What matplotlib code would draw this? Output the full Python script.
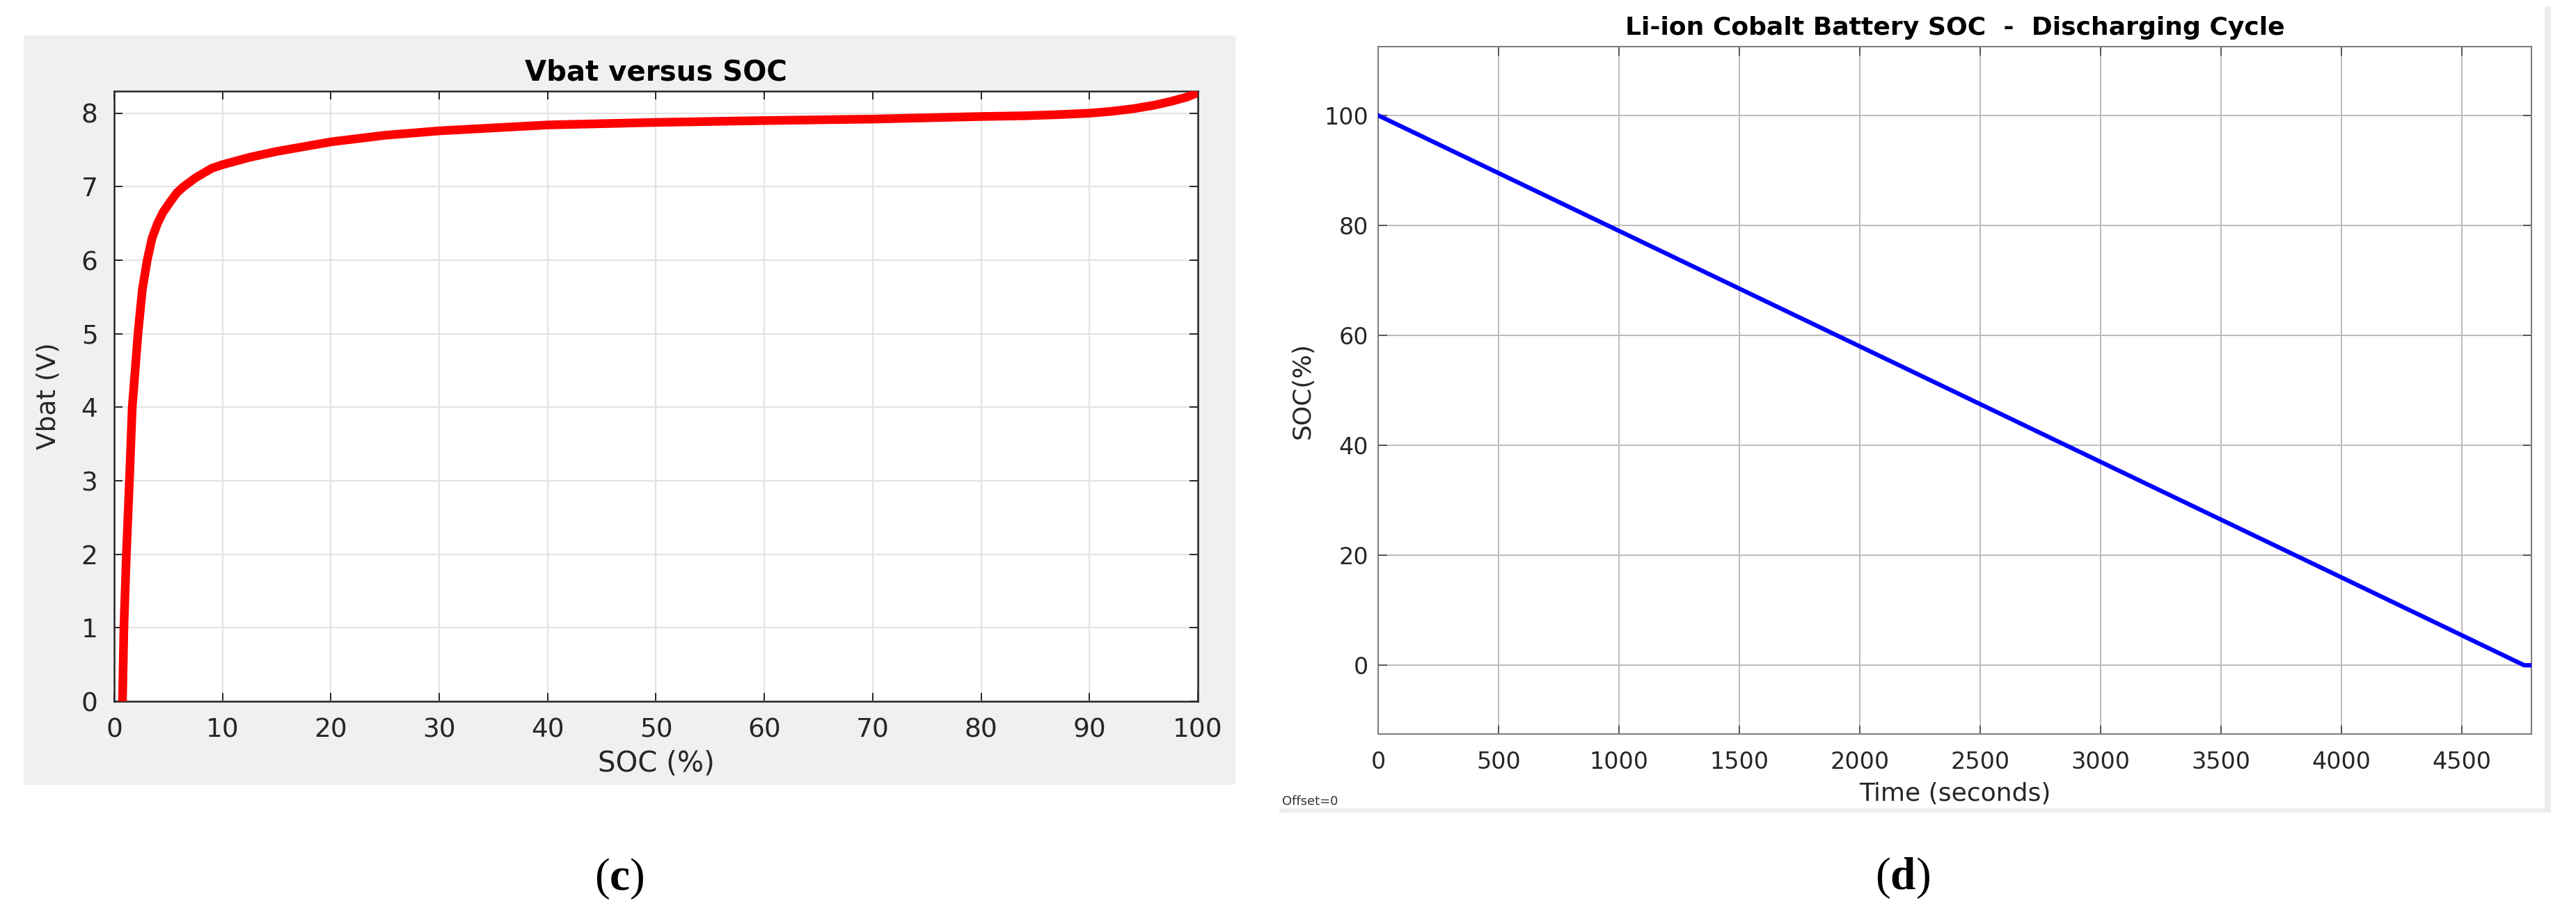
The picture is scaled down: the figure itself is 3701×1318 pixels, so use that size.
import matplotlib
matplotlib.use("Agg")
import matplotlib.pyplot as plt
from matplotlib.patches import Rectangle

# (c) battery voltage versus state of charge
soc_pct = [0.77, 0.9, 1.13, 1.41, 1.67, 2.2, 2.6, 3.05, 3.5, 4.0, 4.5, 5.2, 5.8,
           6.4, 7.5, 9.0, 10, 12.5, 15, 20, 25, 30, 40, 50, 60, 70, 80, 84, 87,
           90, 92, 94, 96, 97.5, 99, 100]
vbat = [0, 1, 2, 3, 4, 5, 5.6, 6.0, 6.3, 6.5, 6.65, 6.8, 6.92,
        7.0, 7.12, 7.25, 7.30, 7.40, 7.48, 7.61, 7.70, 7.76, 7.84, 7.875, 7.90, 7.92, 7.955, 7.965, 7.98,
        8.0, 8.025, 8.06, 8.11, 8.16, 8.22, 8.28]
soc_ticks = list(range(0, 101, 10))
vbat_ticks = list(range(0, 9))

# (d) SOC during the discharging cycle
time_s = [0, 1000, 2000, 3000, 4000, 4760, 4790]
soc_discharge = [100, 79, 58, 37, 16, 0, 0]
time_ticks = list(range(0, 4501, 500))
soc_axis_ticks = list(range(0, 101, 20))

plt.rcParams["font.family"] = ["DejaVu Sans"]
plt.rcParams["mathtext.fontset"] = "custom"
plt.rcParams["mathtext.bf"] = "Liberation Serif:bold"
plt.rcParams["mathtext.rm"] = "Liberation Serif"

fig = plt.figure(figsize=(37.01, 13.18), dpi=100)
fig.patch.set_facecolor("white")

# grey figure background of the left (MATLAB) panel
fig.add_artist(Rectangle((0.0092, 0.1442), 0.4704, 0.8171, transform=fig.transFigure,
                         facecolor="#f0f0f0", edgecolor="none", zorder=0))
# thin light frame of the right (scope) panel
fig.add_artist(Rectangle((0.9878, 0.1138), 0.0025, 0.879, transform=fig.transFigure,
                         facecolor="#ededed", edgecolor="none", zorder=0))
fig.add_artist(Rectangle((0.4966, 0.1138), 0.4937, 0.0046, transform=fig.transFigure,
                         facecolor="#ededed", edgecolor="none", zorder=0))

# ---- panel (c)
ax1 = fig.add_axes([0.04431, 0.23520, 0.42069, 0.66540])
ax1.set_facecolor("white")
ax1.plot(soc_pct, vbat, color="#ff0000", lw=9, solid_capstyle="butt",
         solid_joinstyle="round", zorder=3)
ax1.set_xlim(0, 100)
ax1.set_ylim(0, 8.3)
ax1.set_xticks(soc_ticks)
ax1.set_yticks(vbat_ticks)
ax1.grid(True, color="#e2e2e2", lw=1.5, zorder=0)
ax1.set_axisbelow(True)
for s in ax1.spines.values():
    s.set_color("#262626")
    s.set_linewidth(1.8)
ax1.tick_params(direction="in", length=8.5, width=1.4, color="#262626",
                top=True, right=True, labelsize=27, labelcolor="#262626")
ax1.tick_params(axis="x", pad=17)
ax1.tick_params(axis="y", pad=17)
ax1.set_xlabel("SOC (%)", fontsize=29, color="#262626", va="center")
ax1.xaxis.set_label_coords(0.5, -0.1026)
ax1.set_ylabel("Vbat (V)", fontsize=27, color="#262626", va="center")
ax1.yaxis.set_label_coords(-0.0604, 0.5)
ax1.text(0.5, 1.030, "Vbat versus SOC", transform=ax1.transAxes, ha="center",
         va="center", fontsize=29, fontweight="bold", color="black")

# ---- panel (d)
ax2 = fig.add_axes([0.53499, 0.19954, 0.44772, 0.74962])
ax2.set_facecolor("white")
ax2.plot(time_s, soc_discharge, color="#0000ff", lw=4.5, zorder=3)
ax2.set_xlim(0, 4790)
ax2.set_ylim(-12.5, 112.5)
ax2.set_xticks(time_ticks)
ax2.set_yticks(soc_axis_ticks)
ax2.grid(True, color="#bdbdbd", lw=1.5, zorder=0)
ax2.set_axisbelow(True)
for s in ax2.spines.values():
    s.set_color("#7f7f7f")
    s.set_linewidth(1.5)
ax2.tick_params(direction="in", length=9, width=1.4, color="#555555",
                top=True, right=True, labelsize=24, labelcolor="#262626")
ax2.tick_params(axis="x", pad=17)
ax2.tick_params(axis="y", pad=10)
ax2.set_xlabel("Time (seconds)", fontsize=26, color="#262626", va="center")
ax2.xaxis.set_label_coords(0.5, -0.087)
ax2.set_ylabel("SOC(%)", fontsize=26, color="#262626", va="center")
ax2.yaxis.set_label_coords(-0.0652, 0.5)
ax2.text(0.5, 1.027, "Li-ion Cobalt Battery SOC  -  Discharging Cycle",
         transform=ax2.transAxes, ha="center", va="center", fontsize=26,
         fontweight="bold", color="black")

fig.text(0.4977, 0.126, "Offset=0", fontsize=13, color="#333333", ha="left", va="center")

# panel letters
fig.text(0.2405, 0.0417, r"($\mathbf{c}$)", fontsize=47, family="Liberation Serif",
         ha="center", va="center", color="black")
fig.text(0.7385, 0.0425, r"($\mathbf{d}$)", fontsize=47, family="Liberation Serif",
         ha="center", va="center", color="black")

fig.savefig("out.png", dpi=100)
